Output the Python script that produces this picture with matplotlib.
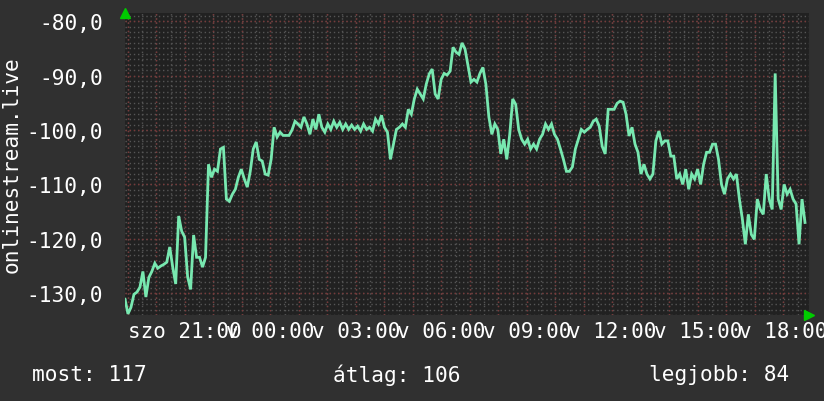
import numpy as np
import matplotlib
matplotlib.use("Agg")
import matplotlib.pyplot as plt
from matplotlib.ticker import MultipleLocator, FixedLocator

# ---- data (hours since Saturday 00:00, signal level) ----
t_start = 18.9      # first sample (szo 18:54)
t_end = 42.76       # last sample (v 18:46)
values = [
    -131.1, -133.8, -132.6, -130.2, -129.8, -128.9, -126.0, -130.7, -127.1, -126.0,
    -124.5, -125.4, -125.0, -124.7, -124.3, -121.5, -125.2, -128.3, -115.8, -118.6,
    -119.7, -127.0, -129.3, -119.3, -123.4, -123.4, -125.2, -123.4, -106.3, -108.7,
    -107.2, -107.6, -103.5, -103.2, -112.7, -113.1, -111.8, -110.9, -108.7, -107.2,
    -109.0, -110.5, -107.6, -103.5, -102.2, -105.4, -105.7, -108.1, -108.3, -105.4,
    -99.5, -101.3, -100.4, -101.0, -101.0, -101.0, -100.0, -98.4, -98.9,
    -99.5, -97.6, -98.9, -100.8, -98.0, -99.9, -97.1, -99.5, -100.4, -98.9,
    -99.9, -98.4, -99.5, -98.6, -99.9, -98.9, -99.9, -99.1, -99.9, -99.3,
    -100.2, -98.9, -99.9, -99.5, -100.2, -98.0, -98.9, -97.3, -99.5, -100.4,
    -105.4, -102.6, -99.9, -99.5, -98.9, -99.5, -96.2, -97.1, -94.3, -92.5,
    -93.4, -94.3, -91.6, -89.7, -88.8, -93.4, -94.3, -90.7, -89.6, -89.9,
    -89.2, -84.8, -85.7, -86.1, -84.0, -85.1, -88.1, -91.2, -90.7, -91.2,
    -89.6, -88.5, -91.6, -97.6, -100.8, -98.9, -99.9, -104.4, -101.7, -105.4,
    -100.8, -94.3, -95.3, -99.9, -101.7, -102.6, -101.7, -103.5, -102.6, -103.5,
    -101.7, -100.8, -98.9, -99.9, -98.9, -100.8, -101.7, -103.5, -105.4, -107.6,
    -107.6, -106.8, -103.5, -101.7, -99.9, -100.4, -99.9, -99.5, -98.4, -98.0,
    -99.3, -103.0, -104.4, -96.2, -96.2, -96.2, -95.1, -94.7, -94.9, -97.1,
    -101.1, -99.5, -102.6, -104.1, -108.1, -106.3, -108.1, -109.0, -108.1, -102.0,
    -100.2, -102.6, -102.0, -102.0, -104.8, -104.8, -109.0, -108.1, -110.0, -107.2,
    -110.9, -108.1, -109.0, -107.2, -110.0, -106.3, -104.1, -104.1, -102.6, -102.6,
    -105.4, -110.0, -111.8, -109.0, -108.1, -109.0, -108.1, -112.7, -116.4, -121.0,
    -115.5, -119.2, -120.1, -112.7, -114.6, -115.5, -108.1, -112.7, -114.6, -89.6,
    -112.7, -114.6, -110.0, -111.8, -110.9, -112.7, -113.6, -121.0, -112.7, -117.0,
]
x_ticks = [21, 24, 27, 30, 33, 36, 39, 42]
x_labels = ["szo 21:00", "v 00:00", "v 03:00", "v 06:00", "v 09:00",
            "v 12:00", "v 15:00", "v 18:00"]
y_ticks = [-130, -120, -110, -100, -90, -80]
y_label = "onlinestream.live"
legend_items = [("most: 117", 32), ("átlag: 106", 333), ("legjobb: 84", 649)]

# ---- style ----
FIG_BG = "#303030"
AX_BG = "#212121"
LINE = "#78e8b0"
MAJOR = "#7a3838"
MINOR = "#555555"
TXT = "#ffffff"
FONT = "DejaVu Sans Mono"

fig = plt.figure(figsize=(8.24, 4.02), dpi=100, facecolor=FIG_BG)
W, H = 824, 402
ax = fig.add_axes([125 / W, 1 - 316 / H, 684 / W, 302 / H], facecolor=AX_BG)

times = np.linspace(t_start, t_end, len(values))
ax.plot(times, values, color=LINE, lw=2.0, zorder=5, solid_joinstyle="miter")

ax.set_xlim(18.9, 18.9 + 684 / 28.5)
ax.set_ylim(-134.0, -78.5)

ax.yaxis.set_major_locator(FixedLocator(y_ticks))
ax.xaxis.set_major_locator(FixedLocator(x_ticks))
for v in np.arange(-134, -78, 1):
    ax.axhline(v, color=MINOR, lw=1, ls=(0, (1, 2)), zorder=1)
for h in np.arange(19, 43.01, 0.5):
    ax.axvline(h, color=MINOR, lw=1, ls=(0, (1, 2)), zorder=1)
for v in y_ticks:
    ax.axhline(v, color=MAJOR, lw=1, ls=(0, (1, 2)), zorder=2)
for h in np.arange(19, 43.01, 1):
    ax.axvline(h, color=MAJOR, lw=1, ls=(0, (1, 2)), zorder=2)

ax.set_yticklabels([f"{v:.1f}".replace(".", ",") for v in y_ticks])
ax.set_xticklabels(x_labels)
ax.tick_params(which="both", length=0)
ax.tick_params(axis="y", pad=16, labelsize=15.2, labelcolor=TXT)
ax.tick_params(axis="x", pad=4, labelsize=15, labelcolor=TXT)
for lab in ax.get_xticklabels() + ax.get_yticklabels():
    lab.set_fontfamily(FONT)
for s in ax.spines.values():
    s.set_visible(False)

ax.set_ylabel(y_label, fontsize=15.2, color=TXT, family=FONT)
ax.yaxis.set_label_coords(-103 / 684, 0.5)

# arrows
ax.plot([0], [1.0], marker="^", color="#00cc00", ms=7, transform=ax.transAxes,
        clip_on=False, zorder=10)
ax.plot([1.0], [0.0], marker=">", color="#00cc00", ms=7, transform=ax.transAxes,
        clip_on=False, zorder=10)

for text, xpix in legend_items:
    fig.text(xpix / W, 1 - 375 / H, text, ha="left", va="center",
             fontsize=15.2, color=TXT, family=FONT)

fig.savefig("out.png", dpi=100, facecolor=FIG_BG)
